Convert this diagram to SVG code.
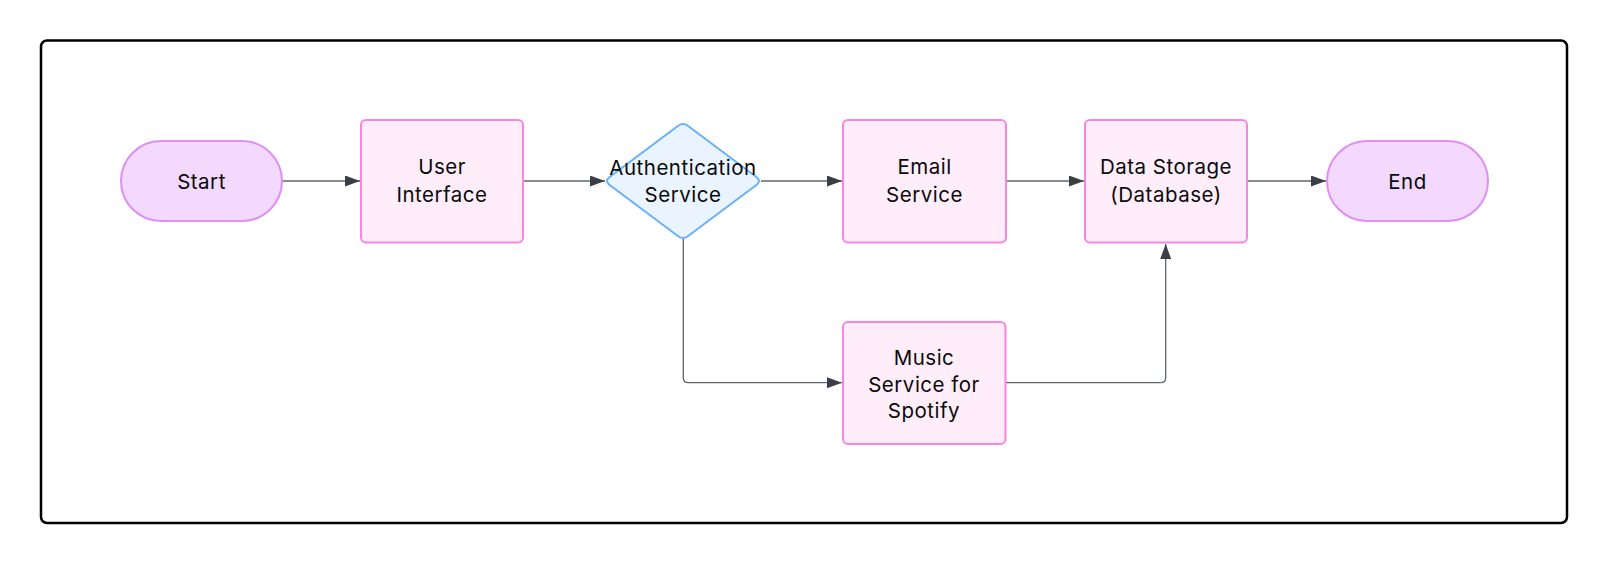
<svg xmlns="http://www.w3.org/2000/svg" width="1606" height="564" viewBox="0 0 1606 564">
<defs>
<style>
.frame{fill:#ffffff;stroke:#000000;stroke-width:2.5}
.term{fill:#f2d9fd;stroke:#df8ef4;stroke-width:2}
.proc{fill:#ffeefa;stroke:#fb84e0;stroke-width:2}
.dec{fill:#eaf4fe;stroke:#68b0f9;stroke-width:2}
.lbl{font-family:Inter,"Noto Sans","Liberation Sans",sans-serif;font-size:20.5px;letter-spacing:0.5px;fill:#0a0a0a;text-anchor:middle}
.edge{fill:none;stroke:#60656c;stroke-width:1.3}
</style>
<marker id="arr" markerUnits="userSpaceOnUse" markerWidth="16" markerHeight="12" refX="15" refY="5.5" orient="auto">
<path d="M0,0 L15,5.5 L0,11 z" fill="#393e47"/>
</marker>
</defs>
<rect width="1606" height="564" fill="#ffffff"/>
<rect class="frame" x="41" y="40.5" width="1526" height="482.5" rx="6"/>
<g id="connectors">
<path class="edge" d="M282,181 L360,181" marker-end="url(#arr)"/>
<path class="edge" d="M523,181 L605,181" marker-end="url(#arr)"/>
<path class="edge" d="M761,181 L842,181" marker-end="url(#arr)"/>
<path class="edge" d="M1006,181 L1084,181" marker-end="url(#arr)"/>
<path class="edge" d="M1247,181 L1326,181" marker-end="url(#arr)"/>
<path class="edge" d="M683.3,239 L683.3,377.7 Q683.3,382.7 688.3,382.7 L842,382.7" marker-end="url(#arr)"/>
<path class="edge" d="M1005.5,382.7 L1160.7,382.7 Q1165.7,382.7 1165.7,377.7 L1165.7,244" marker-end="url(#arr)"/>
</g>
<g id="start">
<rect class="term" x="121" y="141" width="161" height="80" rx="40"/>
<text class="lbl" x="201.5" y="189">Start</text>
</g>
<g id="ui">
<rect class="proc" x="361" y="120" width="162" height="122.5" rx="5"/>
<text class="lbl" x="442" y="174">User</text>
<text class="lbl" x="442" y="201.5">Interface</text>
</g>
<g id="auth">
<path class="dec" d="M678.5,125.5 Q683,122.7 687.5,125.5 L757,177.5 Q761,181 757,184.5 L687.5,236.5 Q683,239.3 678.5,236.5 L609,184.5 Q605,181 609,177.5 Z"/>
<text class="lbl" x="683" y="175">Authentication</text>
<text class="lbl" x="683" y="201.5">Service</text>
</g>
<g id="email">
<rect class="proc" x="843" y="120" width="163" height="122.5" rx="5"/>
<text class="lbl" x="924.5" y="174">Email</text>
<text class="lbl" x="924.5" y="201.5">Service</text>
</g>
<g id="data">
<rect class="proc" x="1085" y="120" width="162" height="122.5" rx="5"/>
<text class="lbl" x="1166" y="174">Data Storage</text>
<text class="lbl" x="1166" y="201.5">(Database)</text>
</g>
<g id="end">
<rect class="term" x="1327" y="141" width="161" height="80" rx="40"/>
<text class="lbl" x="1407.5" y="189">End</text>
</g>
<g id="music">
<rect class="proc" x="843" y="322" width="162.5" height="122" rx="5"/>
<text class="lbl" x="924" y="365">Music</text>
<text class="lbl" x="924" y="391.7">Service for</text>
<text class="lbl" x="924" y="418.3">Spotify</text>
</g>
</svg>
